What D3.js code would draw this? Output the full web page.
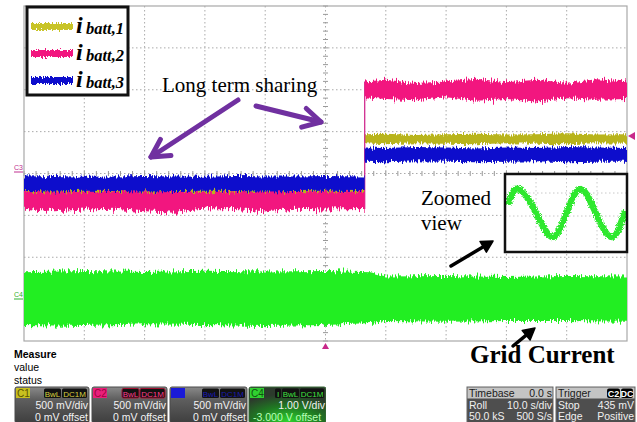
<!DOCTYPE html>
<html><head><meta charset="utf-8">
<script src="https://cdn.jsdelivr.net/npm/d3@7"></script>
<style>body{margin:0;background:#fff}svg{display:block}</style>
</head><body><svg id="c" width="637" height="422"></svg>
<script>
// ---------- DATA (in oscilloscope divisions) ----------
const timeBefore = [0, 0.5, 1, 1.5, 2, 2.5, 3, 3.5, 4, 4.5, 5, 5.65];
const timeAfter  = [5.65, 6, 6.5, 7, 7.5, 8, 8.5, 9, 9.5, 10];
const c1Upper = [-0.30,-0.31,-0.29,-0.30,-0.31,-0.30,-0.29,-0.30,-0.31,-0.30,-0.29,-0.30,
                 0.94,0.95,0.92,0.94,0.95,0.93,0.94,0.96,0.93,0.94];
const c1Lower = [-0.55,-0.56,-0.55,-0.54,-0.56,-0.55,-0.56,-0.55,-0.54,-0.55,-0.56,-0.55,
                 0.72,0.70,0.72,0.71,0.70,0.72,0.71,0.70,0.72,0.71];
const c2Upper = [-0.42,-0.43,-0.42,-0.41,-0.43,-0.42,-0.42,-0.43,-0.41,-0.42,-0.43,-0.42,
                 2.20,2.24,2.16,2.20,2.26,2.18,2.24,2.17,2.25,2.20];
const c2Lower = [-0.84,-0.90,-0.86,-0.84,-0.90,-0.94,-0.86,-0.85,-0.90,-0.84,-0.86,-0.85,
                 1.82,1.78,1.75,1.82,1.74,1.78,1.72,1.80,1.76,1.78];
const c3Upper = [-0.07,-0.06,-0.08,-0.07,-0.06,-0.07,-0.08,-0.06,-0.07,-0.07,-0.06,-0.07,
                 0.62,0.61,0.63,0.62,0.60,0.62,0.61,0.63,0.62,0.61];
const c3Lower = [-0.42,-0.43,-0.41,-0.42,-0.43,-0.42,-0.41,-0.42,-0.43,-0.42,-0.41,-0.42,
                 0.28,0.27,0.29,0.28,0.27,0.28,0.29,0.27,0.28,0.28];
const c4Time  = [0, 1, 2, 3, 4, 5, 5.75, 6, 7, 8, 9, 10];
const c4Upper = [-2.36,-2.33,-2.35,-2.32,-2.34,-2.33,-2.36,-2.46,-2.45,-2.47,-2.45,-2.46];
const c4Lower = [-3.62,-3.64,-3.60,-3.62,-3.64,-3.62,-3.57,-3.52,-3.54,-3.52,-3.52,-3.54];
// zoomed view: grid current (normalised time 0..1, value -1..1)
const zoomTime  = [0, 0.09, 0.24, 0.38, 0.50, 0.62, 0.75, 0.89, 1];
const zoomValue = [0.35, 1, 0, -1, 0, 1, 0, -1, 0.1];
// legend / labels
const legendSub = ["batt,1","batt,2","batt,3"];
const chanNames = ["C1","C2","C3","C4"];
const chanScale = ["500 mV/div","500 mV/div","500 mV/div","1.00 V/div"];
const chanOffset = ["0 mV offset","0 mV offset","0 mV offset","-3.000 V offset"];
const timebaseRows = [["Timebase","0.0 s"],["Roll","10.0 s/div"],["50.0 kS","500 S/s"]];
const triggerRows = [["Trigger",""],["Stop","435 mV"],["Edge","Positive"]];

// ---------- STYLE ----------
const COL = {c1:"#b8b41e", c2:"#f2187f", c3:"#0c10cc", c4:"#22ee22"};
const svg = d3.select("#c");
const L=24, R=627, T=6, B=341;
const x = d3.scaleLinear().domain([0,10]).range([L,R]);
const y = d3.scaleLinear().domain([-4,4]).range([B,T]);

const defs = svg.append("defs");
function noise(id, scale, fx, fy, seed){
  const f = defs.append("filter").attr("id",id).attr("x","-3%").attr("y","-60%").attr("width","106%").attr("height","220%");
  f.append("feTurbulence").attr("type","fractalNoise").attr("baseFrequency",fx+" "+fy).attr("numOctaves",2).attr("seed",seed).attr("result","t");
  f.append("feColorMatrix").attr("in","t").attr("type","matrix")
    .attr("values","0 0 0 0 0.5  0 1 0 0 0  0 0 1 0 0  0 0 0 0 1").attr("result","m");
  f.append("feDisplacementMap").attr("in","SourceGraphic").attr("in2","m").attr("scale",scale)
    .attr("xChannelSelector","R").attr("yChannelSelector","G");
}
noise("n1",7,0.9,0.06,2); noise("n2",13,0.9,0.05,5); noise("n3",9,0.9,0.06,8); noise("n4",11,0.7,0.05,11);
noise("ns",7,0.8,0.3,4);
const zf = defs.append("filter").attr("id","nz").attr("x","-10%").attr("y","-20%").attr("width","120%").attr("height","140%");
zf.append("feTurbulence").attr("type","fractalNoise").attr("baseFrequency","0.9 0.9").attr("numOctaves",2).attr("seed",3).attr("result","t");
zf.append("feDisplacementMap").attr("in","SourceGraphic").attr("in2","t").attr("scale",5).attr("xChannelSelector","R").attr("yChannelSelector","G");

// ---------- GRID ----------
const grid = svg.append("g");
grid.selectAll("line.v").data(d3.range(1,10)).join("line")
  .attr("x1",d=>x(d)).attr("x2",d=>x(d)).attr("y1",T).attr("y2",B)
  .attr("stroke","#aaa").attr("stroke-width",1).attr("stroke-dasharray","1.5,2.5");
grid.selectAll("line.h").data(d3.range(-3,4)).join("line")
  .attr("y1",d=>y(d)).attr("y2",d=>y(d)).attr("x1",L).attr("x2",R)
  .attr("stroke","#aaa").attr("stroke-width",1).attr("stroke-dasharray","1.5,2.5");
// centre ticks
grid.selectAll("line.tx").data(d3.range(0,10.01,0.2)).join("line")
  .attr("x1",d=>x(d)).attr("x2",d=>x(d)).attr("y1",y(0)-2.5).attr("y2",y(0)+2.5)
  .attr("stroke","#999").attr("stroke-width",1);
grid.selectAll("line.ty").data(d3.range(-4,4.01,0.2)).join("line")
  .attr("y1",d=>y(d)).attr("y2",d=>y(d)).attr("x1",x(5)-2.5).attr("x2",x(5)+2.5)
  .attr("stroke","#999").attr("stroke-width",1);
grid.append("rect").attr("x",L).attr("y",T).attr("width",R-L).attr("height",B-T)
  .attr("fill","none").attr("stroke","#a8a8a8").attr("stroke-width",1.2);

// ---------- TRACES ----------
const tAll = timeBefore.concat(timeAfter);
function band(times, up, lo, color, filt){
  const data = times.map((t,i)=>({t, u:up[i], l:lo[i]}));
  const area = d3.area().x(d=>x(d.t)).y0(d=>y(d.l)).y1(d=>y(d.u));
  svg.append("path").datum(data).attr("d",area).attr("fill",color).attr("filter","url(#"+filt+")");
}
function stepLine(up, lo, color){
  const i = timeBefore.length-1;
  const vals = [up[i],lo[i],up[i+1],lo[i+1]];
  svg.append("line").attr("x1",x(timeBefore[i])).attr("x2",x(timeBefore[i]))
    .attr("y1",y(d3.max(vals))).attr("y2",y(d3.min(vals)))
    .attr("stroke",color).attr("stroke-width",1.3);
}
band(c4Time, c4Upper, c4Lower, COL.c4, "n4");
band(tAll, c1Upper, c1Lower, COL.c1, "n1");
stepLine(c2Upper, c2Lower, "#d02c90");
band(tAll, c2Upper, c2Lower, COL.c2, "n2");
band(tAll, c3Upper, c3Lower, COL.c3, "n3");

// channel ground markers
svg.append("text").attr("x",14).attr("y",170).attr("font-family","Liberation Sans").attr("font-size",7)
  .attr("fill","#c03090").text("C3");
svg.append("line").attr("x1",14).attr("x2",23).attr("y1",172).attr("y2",172).attr("stroke","#c03090");
svg.append("text").attr("x",14).attr("y",297).attr("font-family","Liberation Sans").attr("font-size",7)
  .attr("fill","#30b030").text("C4");
svg.append("line").attr("x1",14).attr("x2",23).attr("y1",299).attr("y2",299).attr("stroke","#30b030");
svg.append("path").attr("d","M628,136 L635,132 L635,140 Z").attr("fill","#c8288a");
svg.append("path").attr("d","M"+x(5)+",343 L"+(x(5)-3.5)+",349 L"+(x(5)+3.5)+",349 Z").attr("fill","#c8288a");

// ---------- LEGEND ----------
const lg = svg.append("g");
lg.append("rect").attr("x",27).attr("y",7).attr("width",101).attr("height",88)
  .attr("fill","#fff").attr("stroke","#111").attr("stroke-width",3);
const swCol = ["#c8c428", COL.c2, COL.c3];
const rowsY = [33, 60, 87];
legendSub.forEach((s,i)=>{
  lg.append("rect").attr("x",31).attr("y",rowsY[i]-10).attr("width",42).attr("height",7)
    .attr("fill",swCol[i]).attr("filter","url(#ns)");
  lg.append("text").attr("x",76).attr("y",rowsY[i]).attr("font-family","Liberation Serif")
    .attr("font-style","italic").attr("font-weight","bold").attr("font-size",24).attr("fill","#000").text("i");
  lg.append("text").attr("x",86).attr("y",rowsY[i]+1).attr("font-family","Liberation Serif")
    .attr("font-style","italic").attr("font-weight","bold").attr("font-size",16.5).attr("fill","#000").text(s);
});

// ---------- ANNOTATIONS ----------
function arrow(x1,y1,x2,y2,color,w,len,filled){
  const a = Math.atan2(y2-y1,x2-x1), sp=0.5;
  const p1=[x2-len*Math.cos(a-sp), y2-len*Math.sin(a-sp)];
  const p2=[x2-len*Math.cos(a+sp), y2-len*Math.sin(a+sp)];
  svg.append("line").attr("x1",x1).attr("y1",y1).attr("x2",x2-(filled?len*0.6*Math.cos(a):0)).attr("y2",y2-(filled?len*0.6*Math.sin(a):0))
    .attr("stroke",color).attr("stroke-width",w).attr("stroke-linecap","round");
  if(filled){
    svg.append("path").attr("d",`M${p1} L${x2},${y2} L${p2} Z`).attr("fill",color).attr("stroke",color).attr("stroke-width",1.5).attr("stroke-linejoin","round");
  } else {
    svg.append("path").attr("d",`M${p1} L${x2},${y2} L${p2}`).attr("fill","none").attr("stroke",color)
      .attr("stroke-width",w).attr("stroke-linecap","round").attr("stroke-linejoin","round");
  }
}
const serif = "Liberation Serif";
svg.append("text").attr("x",162).attr("y",92).attr("font-family",serif).attr("font-size",21).text("Long term sharing");
arrow(238,100,151,157,"#7030a0",5,20,false);
arrow(256,106,321,122,"#7030a0",5,20,false);
svg.append("text").attr("x",421).attr("y",205).attr("font-family",serif).attr("font-size",21).text("Zoomed");
svg.append("text").attr("x",421).attr("y",230).attr("font-family",serif).attr("font-size",21).text("view");
arrow(451,266,493,241,"#000",3.5,13,true);
arrow(513,346,535,328,"#000",3.5,13,true);
svg.append("text").attr("x",470).attr("y",363).attr("font-family",serif).attr("font-weight","bold").attr("font-size",25).text("Grid Current");

// zoomed view box
const zx = d3.scaleLinear().domain([0,1]).range([508,625]);
const zy = d3.scaleLinear().domain([-1,1]).range([237,189]);
svg.append("rect").attr("x",505).attr("y",174).attr("width",122).attr("height",78).attr("fill","#fff");
[[566.5,174,566.5,252],[505,193,627,193],[505,216,627,216],[536,174,536,252],[597,174,597,252]].forEach(l=>{
  svg.append("line").attr("x1",l[0]).attr("y1",l[1]).attr("x2",l[2]).attr("y2",l[3])
    .attr("stroke","#c8c8c8").attr("stroke-dasharray","1.5,2.5");
});
svg.append("path").datum(zoomTime.map((t,i)=>[t,zoomValue[i]]))
  .attr("d",d3.line().x(d=>zx(d[0])).y(d=>zy(d[1])).curve(d3.curveNatural))
  .attr("fill","none").attr("stroke","#2ee82e").attr("stroke-width",6.5).attr("filter","url(#nz)");
svg.append("rect").attr("x",505).attr("y",174).attr("width",122).attr("height",78)
  .attr("fill","none").attr("stroke","#111").attr("stroke-width",2.5);

// ---------- BOTTOM PANEL ----------
const sans = "Liberation Sans";
svg.append("text").attr("x",14).attr("y",358).attr("font-family",sans).attr("font-weight","bold").attr("font-size",10.5).text("Measure");
svg.append("text").attr("x",14).attr("y",371).attr("font-family",sans).attr("font-size",10.5).text("value");
svg.append("text").attr("x",14).attr("y",384).attr("font-family",sans).attr("font-size",10.5).text("status");

const g1 = defs.append("linearGradient").attr("id","gbox").attr("x1",0).attr("y1",0).attr("x2",0).attr("y2",1);
g1.append("stop").attr("offset","0").attr("stop-color","#8a8a8a");
g1.append("stop").attr("offset","0.35").attr("stop-color","#5e5e5e");
g1.append("stop").attr("offset","1").attr("stop-color","#3e3e3e");
const g4 = defs.append("radialGradient").attr("id","g4box").attr("cx","0.5").attr("cy","0.95").attr("r","0.75");
g4.append("stop").attr("offset","0").attr("stop-color","#2fd22f");
g4.append("stop").attr("offset","0.55").attr("stop-color","#1f7a22");
g4.append("stop").attr("offset","1").attr("stop-color","#2c3a2c");
defs.append("clipPath").attr("id","clipPanel").append("rect").attr("x",0).attr("y",380).attr("width",326).attr("height",42);

const boxX = [15, 92, 170, 249], boxW = [74, 75, 77, 77];
const labBg = ["#c8c020", "#e8207a", "#1a1ad8", "#30d030"];
const labTxt = ["#5a5400", "#a00040", "#1010a0", "#105010"];
const tagTxt = ["#d8d040", "#ff3a8a", "#1a1ab0", "#40e040"];
const panel = svg.append("g").attr("clip-path","url(#clipPanel)");
chanNames.forEach((n,i)=>{
  const bx = boxX[i], bw = boxW[i];
  panel.append("rect").attr("x",bx).attr("y",387).attr("width",bw).attr("height",36).attr("rx",2)
    .attr("fill", i===3 ? "url(#g4box)" : "url(#gbox)").attr("stroke", i===3?"#3a6a3a":"#4a4a4a");
  panel.append("rect").attr("x",bx+1).attr("y",388).attr("width",14).attr("height",10).attr("fill",labBg[i]);
  panel.append("text").attr("x",bx+2).attr("y",397).attr("font-family",sans).attr("font-size",10)
    .attr("fill",labTxt[i]).text(i===2?"":n);
  const tags = i===3 ? [["I",7],["BwL",18],["DC1M",25]] : [["BwL",18],["DC1M",26]];
  let tx = bx+bw-1;
  for(let k=tags.length-1;k>=0;k--){
    const [s,w] = tags[k]; tx -= w;
    panel.append("rect").attr("x",tx).attr("y",388.5).attr("width",w-1).attr("height",9.5).attr("rx",1.5)
      .attr("fill","#111").attr("stroke", i===1?"#a01030":"none");
    panel.append("text").attr("x",tx+(w-1)/2).attr("y",396.5).attr("text-anchor","middle")
      .attr("font-family",sans).attr("font-size",8).attr("fill",tagTxt[i]).text(s);
  }
  panel.append("text").attr("x",bx+bw-1).attr("y",409).attr("text-anchor","end").attr("font-family",sans)
    .attr("font-size",10.5).attr("fill","#f2f2f2").text(chanScale[i]);
  const ot = panel.append("text").attr("y",420.5).attr("font-family",sans)
    .attr("font-size",10.5).attr("fill", i===3 ? "#b8ffb8" : "#f2f2f2").text(chanOffset[i]);
  if(i===3) ot.attr("x",bx+4); else ot.attr("x",bx+bw-1).attr("text-anchor","end");
});

function infoBox(bx, bw, rows, tags){
  svg.append("rect").attr("x",bx).attr("y",387).attr("width",bw).attr("height",36).attr("fill","#4e4e4e").attr("stroke","#666");
  svg.append("rect").attr("x",bx+0.5).attr("y",387.5).attr("width",bw-1).attr("height",11).attr("fill","#c4c4c4");
  rows.forEach((r,k)=>{
    const yy = 397 + k*11.5;
    const c = k===0 ? "#1a1a1a" : "#f0f0f0";
    svg.append("text").attr("x",bx+2).attr("y",yy).attr("font-family",sans).attr("font-size",10.5).attr("fill",c).text(r[0]);
    if(r[1]) svg.append("text").attr("x",bx+bw-1).attr("y",yy).attr("text-anchor","end").attr("font-family",sans).attr("font-size",10.5).attr("fill",c).text(r[1]);
  });
  let tx = bx+bw-1;
  (tags||[]).slice().reverse().forEach(([s,w])=>{
    tx -= w;
    svg.append("rect").attr("x",tx).attr("y",388.5).attr("width",w-1).attr("height",9.5).attr("rx",2).attr("fill","#000");
    svg.append("text").attr("x",tx+(w-1)/2).attr("y",396.5).attr("text-anchor","middle").attr("font-family",sans)
      .attr("font-size",9).attr("font-weight","bold").attr("fill","#fff").text(s);
  });
}
infoBox(467, 86, timebaseRows);
infoBox(556, 79, triggerRows, [["C2",14],["DC",13]]);
</script></body></html>
